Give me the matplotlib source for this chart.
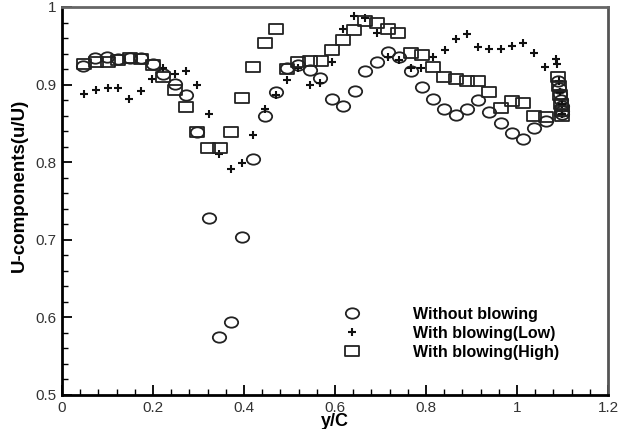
import matplotlib
matplotlib.use("Agg")
import matplotlib.pyplot as plt
from matplotlib.ticker import MultipleLocator
from matplotlib.path import Path
from matplotlib.transforms import Affine2D

plt.rcParams['font.family'] = ['Liberation Sans', 'DejaVu Sans']

# Without blowing (circles)
x_without = [0.047, 0.073, 0.098, 0.124, 0.149, 0.174, 0.199, 0.223, 0.248, 0.273,
             0.296, 0.322, 0.346, 0.371, 0.395, 0.42, 0.446, 0.470, 0.494, 0.519,
             0.544, 0.567, 0.593, 0.618, 0.644, 0.666, 0.692, 0.717, 0.741, 0.766,
             0.791, 0.815, 0.840, 0.866, 0.891, 0.915, 0.939, 0.964, 0.988, 1.014,
             1.037, 1.064, 1.090, 1.093, 1.095, 1.097, 1.098, 1.099, 1.100]
y_without = [0.924, 0.934, 0.936, 0.933, 0.934, 0.934, 0.926, 0.914, 0.901, 0.886,
             0.839, 0.728, 0.575, 0.594, 0.704, 0.804, 0.860, 0.891, 0.921, 0.925,
             0.919, 0.909, 0.881, 0.872, 0.892, 0.917, 0.929, 0.942, 0.935, 0.918,
             0.897, 0.881, 0.869, 0.861, 0.869, 0.880, 0.865, 0.850, 0.837, 0.830,
             0.844, 0.853, 0.905, 0.895, 0.888, 0.880, 0.873, 0.866, 0.862]

# With blowing (Low) (plus signs)
x_low = [0.048, 0.074, 0.100, 0.124, 0.148, 0.174, 0.197, 0.223, 0.248, 0.273,
         0.296, 0.322, 0.346, 0.371, 0.395, 0.419, 0.446, 0.470, 0.494, 0.519,
         0.544, 0.567, 0.593, 0.618, 0.642, 0.667, 0.693, 0.717, 0.741, 0.766,
         0.790, 0.816, 0.842, 0.866, 0.891, 0.915, 0.939, 0.964, 0.990, 1.014,
         1.038, 1.062, 1.086, 1.088, 1.092, 1.095, 1.098, 1.100]
y_low = [0.888, 0.893, 0.896, 0.896, 0.882, 0.892, 0.907, 0.921, 0.914, 0.917,
         0.899, 0.862, 0.811, 0.791, 0.799, 0.835, 0.869, 0.887, 0.906, 0.921,
         0.899, 0.902, 0.929, 0.971, 0.988, 0.986, 0.967, 0.935, 0.932, 0.921,
         0.921, 0.935, 0.944, 0.959, 0.965, 0.949, 0.946, 0.946, 0.950, 0.953,
         0.941, 0.923, 0.933, 0.926, 0.905, 0.890, 0.875, 0.862]

# With blowing (High) (squares)
x_high = [0.048, 0.074, 0.100, 0.124, 0.149, 0.174, 0.199, 0.223, 0.248, 0.273,
          0.296, 0.320, 0.347, 0.371, 0.395, 0.419, 0.446, 0.470, 0.494, 0.519,
          0.545, 0.569, 0.594, 0.618, 0.642, 0.667, 0.693, 0.717, 0.739, 0.766,
          0.791, 0.815, 0.840, 0.866, 0.891, 0.915, 0.939, 0.964, 0.988, 1.014,
          1.037, 1.064, 1.090, 1.092, 1.095, 1.097, 1.099, 1.100]
y_high = [0.926, 0.929, 0.929, 0.932, 0.934, 0.933, 0.925, 0.910, 0.893, 0.871,
          0.839, 0.818, 0.818, 0.839, 0.883, 0.923, 0.954, 0.971, 0.920, 0.929,
          0.930, 0.930, 0.944, 0.957, 0.970, 0.982, 0.980, 0.971, 0.967, 0.941,
          0.938, 0.923, 0.910, 0.907, 0.904, 0.904, 0.891, 0.870, 0.879, 0.876,
          0.860, 0.858, 0.910, 0.898, 0.886, 0.875, 0.866, 0.860]

# slightly flattened markers, like the stretched original
ellipse = Path.unit_circle().transformed(Affine2D().scale(1.0, 0.78))
rect = Path([(-1, -0.78), (1, -0.78), (1, 0.78), (-1, 0.78), (-1, -0.78)],
            [Path.MOVETO, Path.LINETO, Path.LINETO, Path.LINETO, Path.CLOSEPOLY])

fig = plt.figure(figsize=(6.29, 4.29), dpi=100)
ax = fig.add_axes([0.0986, 0.0793, 0.868, 0.9044])

ax.plot(x_without, y_without, linestyle='none', marker=ellipse, markersize=9.6,
        markerfacecolor='none', markeredgecolor='#222222', markeredgewidth=1.3,
        label='Without blowing')
ax.plot(x_low, y_low, linestyle='none', marker='+', markersize=6,
        color='#111111', markeredgewidth=1.5, label='With blowing(Low)')
ax.plot(x_high, y_high, linestyle='none', marker=rect, markersize=9.6,
        markerfacecolor='none', markeredgecolor='#222222', markeredgewidth=1.3,
        label='With blowing(High)')

ax.set_xlim(0, 1.2)
ax.set_ylim(0.5, 1.0)
ax.xaxis.set_minor_locator(MultipleLocator(0.04))
ax.yaxis.set_minor_locator(MultipleLocator(0.02))
ax.set_xticks([0, 0.2, 0.4, 0.6, 0.8, 1.0, 1.2])
ax.set_xticklabels(['0', '0.2', '0.4', '0.6', '0.8', '1', '1.2'])
ax.set_yticks([0.5, 0.6, 0.7, 0.8, 0.9, 1.0])
ax.set_yticklabels(['0.5', '0.6', '0.7', '0.8', '0.9', '1'])

ax.tick_params(which='major', direction='in', length=7, width=1.3, labelsize=11,
               labelcolor='#333333', pad=4)
ax.tick_params(which='minor', direction='in', length=4, width=1.0)
for s in ax.spines.values():
    s.set_linewidth(2)
ax.spines['top'].set_color('#666666')
ax.spines['right'].set_color('#555555')

ax.set_xlabel('y/C', fontsize=13, fontweight='bold', labelpad=-1)
ax.set_ylabel('U-components(u/U)', fontsize=13.5, fontweight='bold')
ax.yaxis.set_label_coords(-0.062, 0.54)

leg = ax.legend(loc='upper left', bbox_to_anchor=(0.502, 0.227), frameon=False,
                prop={'weight': 'bold', 'size': 11.5}, handlelength=2,
                handletextpad=2.8, labelspacing=0.25, borderpad=0, borderaxespad=0)

fig.savefig('out.png', dpi=100)
